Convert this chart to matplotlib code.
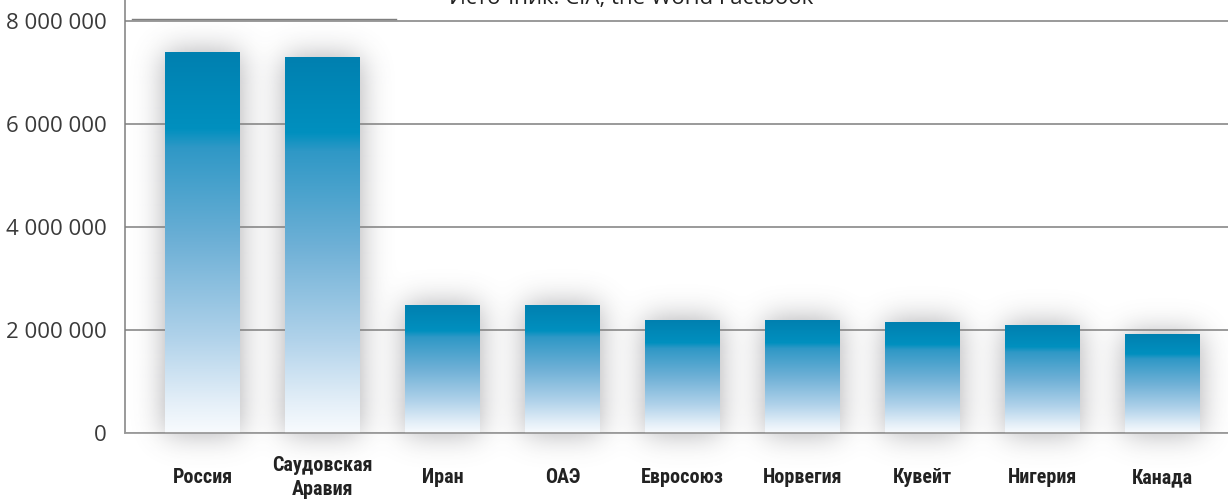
import numpy as np
import matplotlib
matplotlib.use('Agg')
import matplotlib.pyplot as plt
from matplotlib.colors import LinearSegmentedColormap, to_rgb

countries = ['Россия', 'Саудовская\nАравия', 'Иран', 'ОАЭ', 'Евросоюз',
             'Норвегия', 'Кувейт', 'Нигерия', 'Канада']
export = [7400000, 7300000, 2480000, 2480000, 2190000,
          2190000, 2150000, 2090000, 1920000]
yticks = [0, 2000000, 4000000, 6000000, 8000000]
source = 'Источник: CIA, the World Factbook'

W, H, dpi = 1228, 500, 100
fig = plt.figure(figsize=(W / dpi, H / dpi), dpi=dpi)
fig.patch.set_facecolor('white')
# axes: left edge at x=125px, baseline at y=433px, top at figure top
ax = fig.add_axes([125 / W, (H - 433) / H, (1240 - 125) / W, 433 / H])

x = np.arange(len(countries))
width = 0.625
xmin, xmax = -0.646, len(countries) - 1 + 0.646
ymax = 8.41e6
ax.set_xlim(xmin, xmax)
ax.set_ylim(0, ymax)

# soft glow / shadow around bars
px_x = 120.0            # pixels per x unit
px_y = 433 / ymax       # pixels per value unit
gx0, gx1 = xmin - 0.5, xmax + 0.5
gy0, gy1 = -45 / px_y, ymax + 40 / px_y
nx = int((gx1 - gx0) * px_x)
ny = int((gy1 - gy0) * px_y)
gxs = np.linspace(gx0, gx1, nx)
gys = np.linspace(gy0, gy1, ny)
mask = np.zeros((ny, nx))
for xi, v in zip(x, export):
    cx = (np.abs(gxs - xi) <= width / 2)
    cy = (gys >= 0) & (gys <= v)
    mask[np.ix_(cy, cx)] = 1.0

def blur1d(a, sigma, axis):
    r = int(3 * sigma)
    k = np.exp(-0.5 * (np.arange(-r, r + 1) / sigma) ** 2)
    k /= k.sum()
    return np.apply_along_axis(lambda m: np.convolve(m, k, mode='same'), axis, a)

sig = 15
blur = blur1d(blur1d(mask, sig, 1), sig, 0)
shadow = np.zeros((ny, nx, 4))
shadow[..., :3] = to_rgb('#55555c')
shadow[..., 3] = np.clip(0.5 * blur, 0, 1)
ax.imshow(shadow, extent=(gx0, gx1, gy0, gy1), origin='lower', aspect='auto',
          zorder=0.2, interpolation='bilinear', clip_on=False)

# bars with vertical gradient
cmap = LinearSegmentedColormap.from_list('blu', [
    (0.0, '#0080b0'), (0.2, '#0090bf'), (0.25, '#2f98c6'), (0.5, '#6eb0d6'),
    (0.75, '#b0d2ea'), (0.92, '#e4eff8'), (1.0, '#f8fbfe')])
bars = ax.bar(x, export, width=width, color='none', edgecolor='none', zorder=2)
grad = np.linspace(1, 0, 256).reshape(-1, 1)
for b in bars:
    im = ax.imshow(grad, cmap=cmap, vmin=0, vmax=1, aspect='auto', origin='lower',
                   extent=(b.get_x(), b.get_x() + b.get_width(), 0, b.get_height()),
                   zorder=2)
    im.set_clip_path(b)

# axes styling
ax.set_axisbelow(True)
ax.yaxis.grid(True, color='#7f7f7f', linewidth=1.1)
ax.xaxis.grid(False)
for s in ['top', 'right']:
    ax.spines[s].set_visible(False)
ax.spines['left'].set_color('#7f7f7f')
ax.spines['left'].set_linewidth(1.1)
ax.spines['bottom'].set_color('#9a9a9a')
ax.spines['bottom'].set_linewidth(1.3)

ax.set_yticks(yticks)
ax.set_yticklabels([f'{v:,}'.replace(',', ' ') for v in yticks],
                   fontsize=16, color='#3a3a3a', family='Open Sans')
ax.tick_params(axis='y', length=0, pad=13)
ax.set_xticks(x)
ax.set_xticklabels(countries, fontsize=14.5, fontweight='bold', color='#222222',
                   family=['Liberation Sans Narrow', 'Roboto Condensed', 'Roboto'],
                   linespacing=1.35, va='center')
ax.tick_params(axis='x', length=0, pad=32)

# short line at top-left under the (cut) source caption
ax.plot([0.0065, 0.243], [0.955, 0.955], transform=ax.transAxes,
        color='#7f7f7f', lw=1.0, clip_on=False, zorder=3)

fig.text(631 / W, 1 - 4 / H, source, ha='center', va='baseline',
         fontsize=16, color='#222222', family='Open Sans')

fig.savefig('out.png', dpi=dpi)
